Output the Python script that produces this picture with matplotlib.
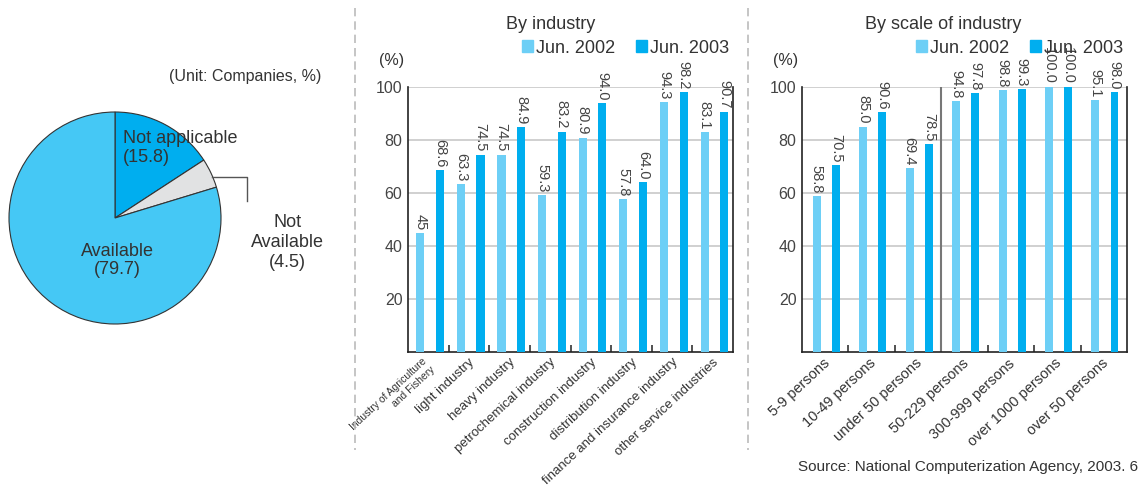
import matplotlib
matplotlib.use('Agg')
import matplotlib.pyplot as plt
from matplotlib.lines import Line2D
from matplotlib.patches import Patch
import numpy as np

plt.rcParams['font.family'] = ['Liberation Sans', 'DejaVu Sans']

# pie
pie_labels = ['Not applicable', 'Not\nAvailable', 'Available']
pie_values = [15.8, 4.5, 79.7]
pie_colors = ['#00AEEF', '#E1E2E3', '#45C8F5']

# by industry
ind_cats = ['Industry of Agriculture\nand Fishery', 'light industry', 'heavy industry',
            'petrochemical industry', 'construction industry', 'distribution industry',
            'finance and insurance industry', 'other service industries']
ind_2002 = [45, 63.3, 74.5, 59.3, 80.9, 57.8, 94.3, 83.1]
ind_2003 = [68.6, 74.5, 84.9, 83.2, 94.0, 64.0, 98.2, 90.7]

# by scale
scale_cats = ['5-9 persons', '10-49 persons', 'under 50 persons', '50-229 persons',
              '300-999 persons', 'over 1000 persons', 'over 50 persons']
scale_2002 = [58.8, 85.0, 69.4, 94.8, 98.8, 100.0, 95.1]
scale_2003 = [70.5, 90.6, 78.5, 97.8, 99.3, 100.0, 98.0]

series_names = ['Jun. 2002', 'Jun. 2003']
LIGHT = '#6DCFF6'
DARK = '#00AEEF'
TXT = '#333333'

W, H = 1143, 492
fig = plt.figure(figsize=(W / 100, H / 100), dpi=100)


def box(x0, y0, x1, y1):
    # pixel box (top-left origin) -> figure fraction
    return [x0 / W, 1 - y1 / H, (x1 - x0) / W, (y1 - y0) / H]


def fx(x):
    return x / W


def fy(y):
    return 1 - y / H


# ---- pie ----
axp = fig.add_axes(box(9, 112, 221, 324))
axp.pie(pie_values, colors=pie_colors, startangle=90, counterclock=False,
        wedgeprops=dict(edgecolor='#333333', linewidth=0.8))
axp.set_xlim(-1, 1)
axp.set_ylim(-1, 1)
axp.text(0.075, 0.66, f'{pie_labels[0]}\n({pie_values[0]})', ha='left', va='center',
         fontsize=13, color=TXT, linespacing=1.1)
axp.text(0.02, -0.40, f'{pie_labels[2]}\n({pie_values[2]})', ha='center', va='center',
         fontsize=13, color=TXT, linespacing=1.1)
axp.text(1.63, -0.23, f'{pie_labels[1]}\n({pie_values[1]})', ha='center', va='center',
         fontsize=13, color=TXT, linespacing=1.25, clip_on=False)
axp.plot([0.915, 1.245, 1.245], [0.387, 0.387, 0.16], color='#555555', lw=1,
         clip_on=False)
fig.text(fx(245), fy(77), '(Unit: Companies, %)', ha='center', va='center',
         fontsize=11.5, color=TXT)


def bar_panel(rect, cats, v02, v03, off, width, title, title_x, tick_shift,
              tick_fs, skip_tick=None):
    ax = fig.add_axes(rect)
    n = len(cats)
    x = np.arange(n)
    b1 = ax.bar(x + off[0], v02, width, color=LIGHT, zorder=3)
    b2 = ax.bar(x + off[1], v03, width, color=DARK, zorder=3)
    for bars, vals in ((b1, v02), (b2, v03)):
        for b, v in zip(bars, vals):
            s = str(v) if isinstance(v, int) else f'{v:.1f}'
            ax.annotate(s, (b.get_x() + b.get_width() / 2, v), xytext=(0, 2),
                        textcoords='offset points', rotation=-90, ha='center',
                        va='bottom', fontsize=10.5, color='#444444',
                        annotation_clip=False)
    ax.set_xlim(-0.5, n - 0.5)
    ax.set_ylim(0, 100)
    ax.set_yticks([20, 40, 60, 80, 100])
    ax.tick_params(axis='y', length=0, pad=4, labelsize=11.5, labelcolor='#444444')
    ax.yaxis.grid(True, color='#C8C8C8', lw=1.2, zorder=0)
    ax.set_xticks(x + tick_shift)
    ax.set_xticklabels(cats, rotation=43, ha='right', va='top', fontsize=tick_fs,
                       color=TXT)
    ax.tick_params(axis='x', length=0, pad=3)
    bounds = [b + 0.5 for b in range(n - 1) if b + 0.5 != skip_tick]
    ax.set_xticks(bounds, minor=True)
    ax.tick_params(axis='x', which='minor', direction='in', length=5, width=1.2,
                   color='#333333')
    ax.spines['top'].set_visible(False)
    for s in ('left', 'bottom', 'right'):
        ax.spines[s].set_color('#222222')
        ax.spines[s].set_linewidth(1.2)
    ax.set_axisbelow(True)
    handles = [Patch(color=LIGHT), Patch(color=DARK)]
    ax.legend(handles, series_names, ncol=2, loc='center right',
              bbox_to_anchor=(1.01, 1.147), frameon=False, fontsize=13,
              handlelength=0.6, handleheight=0.6, handletextpad=0.15,
              columnspacing=1.2, labelcolor=TXT, borderaxespad=0)
    ax.text(-0.05, 1.10, '(%)', transform=ax.transAxes, ha='center', va='center',
            fontsize=11.5, color=TXT)
    ax.text(title_x, 1.234, title, transform=ax.transAxes, ha='center',
            va='center', fontsize=13, color=TXT)
    return ax


ax1 = bar_panel(box(408, 87, 733, 352), ind_cats, ind_2002, ind_2003,
                (-0.2, 0.285), 0.2, 'By industry', 0.44, 0.2, 9.5)
ax1.get_xticklabels()[0].set_fontsize(7.5)
ax1.get_xticklabels()[0].set_multialignment('right')

ax2 = bar_panel(box(802, 87, 1127, 352), scale_cats, scale_2002, scale_2003,
                (-0.18, 0.23), 0.17, 'By scale of industry', 0.434, 0.15, 10.5,
                skip_tick=2.5)
ax2.axvline(2.5, color='#777777', lw=1.5, zorder=2)

# dashed separators
for xp in (355, 748):
    fig.add_artist(Line2D([fx(xp), fx(xp)], [fy(8), fy(450)], color='#BBBBBB',
                          lw=1.2, ls=(0, (5, 3))))

fig.text(fx(1138), fy(467), 'Source: National Computerization Agency, 2003. 6',
         ha='right', va='center', fontsize=11, color=TXT)

fig.savefig('out.png', dpi=100)
